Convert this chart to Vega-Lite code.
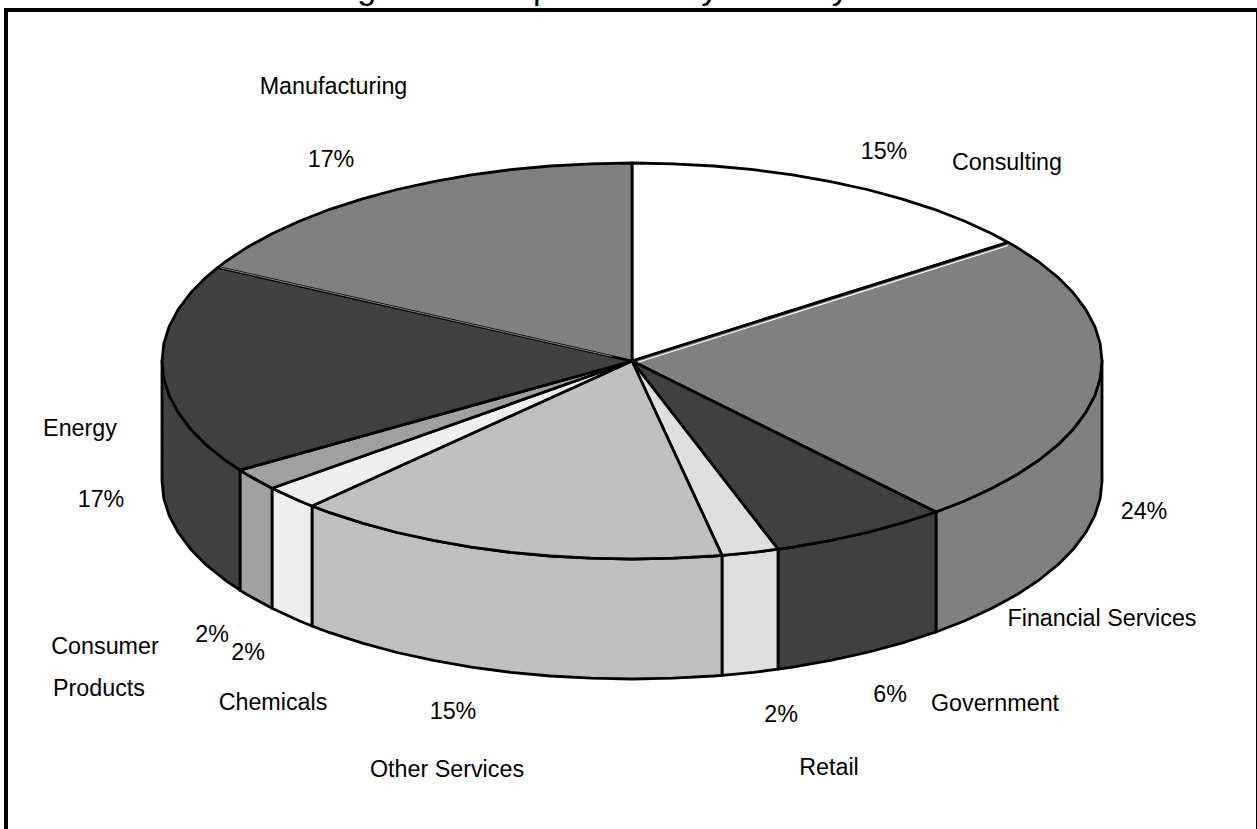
{"$schema":"https://vega.github.io/schema/vega-lite/v6.json","width":1257,"height":829,"padding":0,"autosize":{"type":"none"},"background":"white","view":{"stroke":null,"fill":null},"projection":{"type":"identity","reflectY":true,"scale":1,"translate":[632,361]},"layer":[
{"data":{"values":[
{"type":"Feature","properties":{"name":"Financial Services","part":"wall"},"geometry":{"type":"Polygon","coordinates":[[[470,0],[468.2,-17.3],[462.9,-34.4],[454,-51.2],[441.7,-67.7],[426,-83.7],[407,-99],[385,-113.6],[360,-127.3],[332.3,-140],[304,-151],[304,-271],[332.3,-260],[360,-247.3],[385,-233.6],[407,-219],[426,-203.7],[441.7,-187.7],[454,-171.2],[462.9,-154.4],[468.2,-137.3],[470,-120],[470,0]]]}},
{"type":"Feature","properties":{"name":"Government","part":"wall"},"geometry":{"type":"Polygon","coordinates":[[[304,-151],[269.6,-162.2],[235,-171.5],[198.6,-179.4],[160.7,-186.1],[146,-188.2],[146,-308.2],[160.7,-306.1],[198.6,-299.4],[235,-291.5],[269.6,-282.2],[304,-271],[304,-151]]]}},
{"type":"Feature","properties":{"name":"Retail","part":"wall"},"geometry":{"type":"Polygon","coordinates":[[[146,-188.2],[121.6,-191.3],[90,-194.3],[90,-314.3],[121.6,-311.3],[146,-308.2],[146,-188.2]]]}},
{"type":"Feature","properties":{"name":"Other Services","part":"wall"},"geometry":{"type":"Polygon","coordinates":[[[90,-194.3],[81.6,-195],[41,-197.2],[0,-198],[-41,-197.2],[-81.6,-195],[-121.6,-191.3],[-160.7,-186.1],[-198.6,-179.4],[-235,-171.5],[-269.6,-162.2],[-302.1,-151.7],[-320,-145],[-320,-265],[-302.1,-271.7],[-269.6,-282.2],[-235,-291.5],[-198.6,-299.4],[-160.7,-306.1],[-121.6,-311.3],[-81.6,-315],[-41,-317.2],[0,-318],[41,-317.2],[81.6,-315],[90,-314.3],[90,-194.3]]]}},
{"type":"Feature","properties":{"name":"Chemicals","part":"wall"},"geometry":{"type":"Polygon","coordinates":[[[-320,-145],[-332.3,-140],[-360,-127.3],[-360,-247.3],[-332.3,-260],[-320,-265],[-320,-145]]]}},
{"type":"Feature","properties":{"name":"Consumer Products","part":"wall"},"geometry":{"type":"Polygon","coordinates":[[[-360,-127.3],[-385,-113.6],[-392,-109.2],[-392,-229.2],[-385,-233.6],[-360,-247.3],[-360,-127.3]]]}},
{"type":"Feature","properties":{"name":"Energy","part":"wall"},"geometry":{"type":"Polygon","coordinates":[[[-392,-109.2],[-407,-99],[-426,-83.7],[-441.7,-67.7],[-454,-51.2],[-462.9,-34.4],[-468.2,-17.3],[-470,0],[-470,-120],[-468.2,-137.3],[-462.9,-154.4],[-454,-171.2],[-441.7,-187.7],[-426,-203.7],[-407,-219],[-392,-229.2],[-392,-109.2]]]}},
{"type":"Feature","properties":{"name":"Consulting","part":"top"},"geometry":{"type":"Polygon","coordinates":[[[0,0],[0,198],[41,197.2],[81.6,195],[121.6,191.3],[160.7,186.1],[198.6,179.4],[235,171.5],[269.6,162.2],[302.1,151.7],[332.3,140],[360,127.3],[376.3,118.6],[0,0]]]}},
{"type":"Feature","properties":{"name":"Financial Services","part":"top"},"geometry":{"type":"Polygon","coordinates":[[[0,0],[376.3,118.6],[385,113.6],[407,99],[426,83.7],[441.7,67.7],[454,51.2],[462.9,34.4],[468.2,17.3],[470,0],[468.2,-17.3],[462.9,-34.4],[454,-51.2],[441.7,-67.7],[426,-83.7],[407,-99],[385,-113.6],[360,-127.3],[332.3,-140],[304,-151],[0,0]]]}},
{"type":"Feature","properties":{"name":"Government","part":"top"},"geometry":{"type":"Polygon","coordinates":[[[0,0],[304,-151],[269.6,-162.2],[235,-171.5],[198.6,-179.4],[160.7,-186.1],[146,-188.2],[0,0]]]}},
{"type":"Feature","properties":{"name":"Retail","part":"top"},"geometry":{"type":"Polygon","coordinates":[[[0,0],[146,-188.2],[121.6,-191.3],[90,-194.3],[0,0]]]}},
{"type":"Feature","properties":{"name":"Other Services","part":"top"},"geometry":{"type":"Polygon","coordinates":[[[0,0],[90,-194.3],[81.6,-195],[41,-197.2],[0,-198],[-41,-197.2],[-81.6,-195],[-121.6,-191.3],[-160.7,-186.1],[-198.6,-179.4],[-235,-171.5],[-269.6,-162.2],[-302.1,-151.7],[-320,-145],[0,0]]]}},
{"type":"Feature","properties":{"name":"Chemicals","part":"top"},"geometry":{"type":"Polygon","coordinates":[[[0,0],[-320,-145],[-332.3,-140],[-360,-127.3],[0,0]]]}},
{"type":"Feature","properties":{"name":"Consumer Products","part":"top"},"geometry":{"type":"Polygon","coordinates":[[[0,0],[-360,-127.3],[-385,-113.6],[-392,-109.2],[0,0]]]}},
{"type":"Feature","properties":{"name":"Energy","part":"top"},"geometry":{"type":"Polygon","coordinates":[[[0,0],[-392,-109.2],[-407,-99],[-426,-83.7],[-441.7,-67.7],[-454,-51.2],[-462.9,-34.4],[-468.2,-17.3],[-470,0],[-468.2,17.3],[-462.9,34.4],[-454,51.2],[-441.7,67.7],[-426,83.7],[-414,93.7],[0,0]]]}},
{"type":"Feature","properties":{"name":"Manufacturing","part":"top"},"geometry":{"type":"Polygon","coordinates":[[[0,0],[-414,93.7],[-407,99],[-385,113.6],[-360,127.3],[-332.3,140],[-302.1,151.7],[-269.6,162.2],[-235,171.5],[-198.6,179.4],[-160.7,186.1],[-121.6,191.3],[-81.6,195],[-41,197.2],[0,198],[0,0]]]}}
]},"mark":{"type":"geoshape","stroke":"black","strokeWidth":2.8,"strokeJoin":"round"},"encoding":{"fill":{"field":"properties.name","type":"nominal","legend":null,"scale":{"domain":["Consulting","Financial Services","Government","Retail","Other Services","Chemicals","Consumer Products","Energy","Manufacturing"],"range":["#ffffff","#808080","#404040","#dfdfdf","#bfbfbf","#eeeeee","#a0a0a0","#404040","#808080"]}}}},
{"data":{"values":[
{"type":"Feature","properties":{"name":"Consulting edge"},"geometry":{"type":"LineString","coordinates":[[6,-1.2],[376,115.4]]}}
]},"mark":{"type":"geoshape","filled":false,"stroke":"white","strokeWidth":1.1}},
{"data":{"values":[
{"type":"Feature","properties":{"name":"Manufacturing edge"},"geometry":{"type":"LineString","coordinates":[[-20,4.6],[-412,93.4]]}}
]},"mark":{"type":"geoshape","filled":false,"stroke":"#a8a8a8","strokeWidth":0.8}},
{"data":{"values":[
{"type":"Feature","properties":{"name":"frame"},"geometry":{"type":"Polygon","coordinates":[[[-626,351],[626,351],[626,-476],[-626,-476],[-626,351]]]}}
]},"mark":{"type":"geoshape","filled":false,"stroke":"black","strokeWidth":4}},
{"data":{"values":[
{"label":"Manufacturing","lon":-298.5,"lat":274},
{"label":"17%","lon":-301,"lat":201},
{"label":"15%","lon":252,"lat":209},
{"label":"Consulting","lon":375,"lat":198},
{"label":"24%","lon":512,"lat":-151},
{"label":"Financial Services","lon":470,"lat":-258},
{"label":"6%","lon":258,"lat":-334},
{"label":"Government","lon":363,"lat":-343},
{"label":"2%","lon":149,"lat":-354},
{"label":"Retail","lon":197,"lat":-407},
{"label":"15%","lon":-179,"lat":-351},
{"label":"Other Services","lon":-185,"lat":-409},
{"label":"Chemicals","lon":-359,"lat":-342},
{"label":"2%","lon":-384,"lat":-292},
{"label":"2%","lon":-420,"lat":-274},
{"label":"Consumer","lon":-527,"lat":-286},
{"label":"Products","lon":-533,"lat":-328},
{"label":"Energy","lon":-552,"lat":-68},
{"label":"17%","lon":-531,"lat":-139}
]},"mark":{"type":"text","font":"Liberation Sans","fontSize":23.3,"color":"black","align":"center","baseline":"middle"},"encoding":{"longitude":{"field":"lon","type":"quantitative"},"latitude":{"field":"lat","type":"quantitative"},"text":{"field":"label","type":"nominal"}}},
{"data":{"values":[{"label":"Figure 4: Respondents by Industry","lon":-303,"lat":362.5}]},"mark":{"type":"text","font":"Liberation Sans","fontSize":34,"color":"black","align":"left","baseline":"alphabetic"},"encoding":{"longitude":{"field":"lon","type":"quantitative"},"latitude":{"field":"lat","type":"quantitative"},"text":{"field":"label","type":"nominal"}}}
]}
